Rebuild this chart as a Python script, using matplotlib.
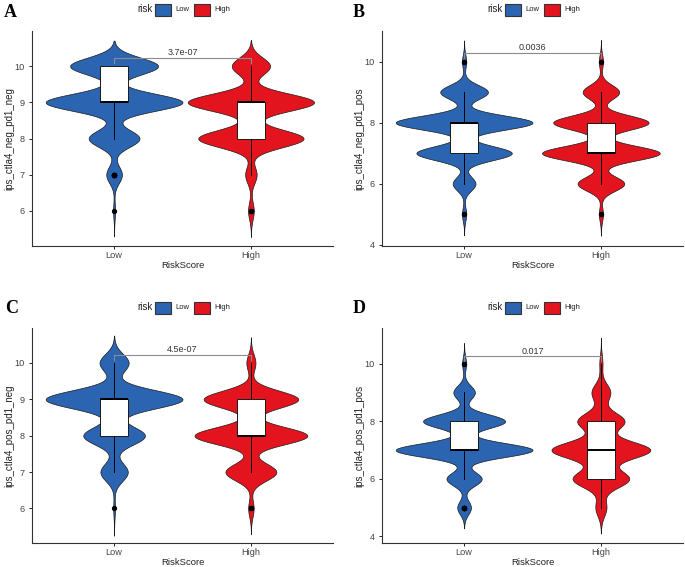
import numpy as np
import matplotlib
matplotlib.use("Agg")
import matplotlib.pyplot as plt
from matplotlib.patches import Rectangle

plt.rcParams["font.family"] = ["Liberation Sans", "DejaVu Sans"]

W, H = 685, 567

groups = ["Low", "High"]
colors = ["#2B64B0", "#E3141E"]
scores = [5, 6, 7, 8, 9, 10]

letters = ["A", "B", "C", "D"]
ylabels = ["ips_ctla4_neg_pd1_neg", "ips_ctla4_neg_pd1_pos",
           "ips_ctla4_pos_pd1_neg", "ips_ctla4_pos_pd1_pos"]
p_values = ["3.7e-07", "0.0036", "4.5e-07", "0.017"]
p_heights = [10.23, 10.27, 10.22, 10.25]

# number of samples per IPS score (5..10)
counts_A_low = [0, 1, 8, 26, 70, 45]
counts_A_high = [0, 3, 6, 55, 66, 20]
counts_B_low = [2, 11, 46, 66, 23, 2]
counts_B_high = [2, 23, 58, 47, 18, 2]
counts_C_low = [0, 1, 16, 36, 80, 17]
counts_C_high = [0, 3, 28, 62, 52, 5]
counts_D_low = [7, 18, 70, 42, 11, 2]
counts_D_high = [7, 36, 63, 30, 12, 2]

panels = [(counts_A_low, counts_A_high), (counts_B_low, counts_B_high),
          (counts_C_low, counts_C_high), (counts_D_low, counts_D_high)]

# kde bandwidth per group (Low, High)
bandwidths = [(0.235, 0.24), (0.23, 0.235), (0.25, 0.235), (0.24, 0.30)]
yticks = [[6, 7, 8, 9, 10], [4, 6, 8, 10], [6, 7, 8, 9, 10], [4, 6, 8, 10]]
ylims = [(5.03, 10.97), (3.96, 11.0), (5.05, 10.96), (3.77, 11.24)]

# axes boxes in pixels: left, top, right, bottom
boxes = [(32, 31, 333, 246), (382, 31, 683, 246),
         (32, 328, 333, 543), (382, 328, 683, 543)]
letter_pos = [(4, 16.7), (353, 16.7), (5, 313.3), (353, 313.3)]
legend_y = [9.5, 307.5]


def kde(samples, grid, bw):
    z = (grid[:, None] - samples[None, :]) / bw
    return np.exp(-0.5 * z ** 2).sum(axis=1) / (len(samples) * bw * np.sqrt(2 * np.pi))


def draw_legend(cx, cy):
    fig.text((cx - 30) / W, 1 - cy / H, "risk", ha="right", va="center",
             fontsize=7, color="#222222")
    for lab, col, x0 in zip(groups, colors, [cx - 27.5, cx + 11.5]):
        fig.patches.append(Rectangle((x0 / W, 1 - (cy + 6) / H), 16 / W, 12 / H,
                                     transform=fig.transFigure, facecolor=col,
                                     edgecolor="#333333", lw=0.8))
        fig.text((x0 + 20) / W, 1 - cy / H, lab, ha="left", va="center",
                 fontsize=5.5, color="#222222")


fig = plt.figure(figsize=(W / 100, H / 100), dpi=100)

for i, (cnts, bws) in enumerate(zip(panels, bandwidths)):
    l, t, r, b = boxes[i]
    ax = fig.add_axes([l / W, 1 - b / H, (r - l) / W, (b - t) / H])

    samples = [np.repeat(scores, c).astype(float) for c in cnts]
    grids, dens = [], []
    for s, bw in zip(samples, bws):
        g = np.linspace(s.min() - 3 * bw, s.max() + 3 * bw, 600)
        grids.append(g)
        dens.append(kde(s, g, bw))
    dmax = max(d.max() for d in dens)

    for j, (g, d) in enumerate(zip(grids, dens)):
        hw = d / dmax * 0.5
        ax.fill_betweenx(g, j + 1 - hw, j + 1 + hw, facecolor=colors[j],
                         edgecolor="#1a1a1a", lw=0.5, zorder=2)

    ax.boxplot(samples, positions=[1, 2], widths=0.2, patch_artist=True,
               showcaps=False, whis=1.5,
               boxprops=dict(facecolor="white", edgecolor="#1a1a1a", lw=0.7),
               medianprops=dict(color="black", lw=1.4),
               whiskerprops=dict(color="black", lw=0.7),
               flierprops=dict(marker="o", markerfacecolor="black",
                               markeredgecolor="black", markersize=2.8),
               zorder=3)

    # significance bracket
    yb = p_heights[i]
    tip = 0.022 * (ylims[i][1] - ylims[i][0])
    ax.plot([1, 1, 2, 2], [yb - tip, yb, yb, yb - tip], color="#8c8c8c", lw=0.8, zorder=4)
    ax.text(1.5, yb + 0.03, p_values[i], ha="center", va="bottom",
            fontsize=6.5, color="#333333")

    ax.set_xlim(0.4, 2.6)
    ax.set_ylim(*ylims[i])
    ax.set_xticks([1, 2])
    ax.set_xticklabels(groups)
    ax.set_yticks(yticks[i])
    ax.tick_params(labelsize=6.6, labelcolor="#444444", length=2.5, width=0.6)
    ax.tick_params(axis="x", pad=1.2)
    ax.tick_params(axis="y", pad=2.5)
    ax.set_xlabel("RiskScore", fontsize=6.8, color="#222222", labelpad=0.5)
    ax.set_ylabel(ylabels[i], fontsize=7, color="#222222", labelpad=0.5)
    for sp in ["top", "right"]:
        ax.spines[sp].set_visible(False)
    for sp in ["left", "bottom"]:
        ax.spines[sp].set_linewidth(0.8)
        ax.spines[sp].set_color("#333333")

    lx, ly = letter_pos[i]
    fig.text(lx / W, 1 - ly / H, letters[i], fontsize=13, fontweight="bold",
             family=["Liberation Serif", "DejaVu Serif"], va="baseline", ha="left")
    draw_legend((l + r) / 2, legend_y[i // 2])

fig.savefig("out.png", dpi=100)
